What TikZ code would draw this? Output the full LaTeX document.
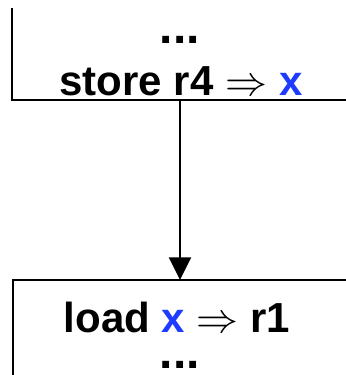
\RequirePackage{fix-cm}
\documentclass[tikz,border=0pt]{standalone}
\usepackage{xcolor}
\usepackage{fontspec}
\setmainfont{Liberation Sans}
\usepackage{tikz}
\usetikzlibrary{arrows.meta}

\definecolor{varblue}{RGB}{30,60,255}
\tikzset{
  instr/.style={font=\fontsize{31.5}{38}\selectfont\bfseries, inner sep=0pt, anchor=base, text depth=0pt},
  elided/.style={font=\fontsize{36}{40}\selectfont\bfseries, inner sep=0pt, anchor=base, text height=6pt, text depth=0pt},
  edge/.style={line width=1.6pt},
}

\begin{document}
\begin{tikzpicture}[x=0.75pt, y=0.75pt]
        \useasboundingbox (0, 0) rectangle (346, 375);

        % first block: left side and bottom edge
        \draw[edge] (12, 367) -- (12, 275) -- (346, 275);
        \node[elided] (dotsA) at (180, 331) {...};
        \node[instr] (store) at (181, 279) {store r4 $\Rightarrow$ \textcolor{varblue}{x}};

        % second block: top edge and left side
        \draw[edge] (346, 95) -- (13, 95) -- (13, 0);
        \node[instr] (load) at (177, 42) {load \textcolor{varblue}{x} $\Rightarrow$ r1};
        \node[elided] (dotsB) at (180, 7) {...};

        \coordinate (storeout) at (180, 275);
        \coordinate (loadin) at (180, 95);
        \draw[edge, -{Triangle[width=16.5pt, length=17pt]}] (storeout) -- (loadin);
      \end{tikzpicture}
\end{document}
